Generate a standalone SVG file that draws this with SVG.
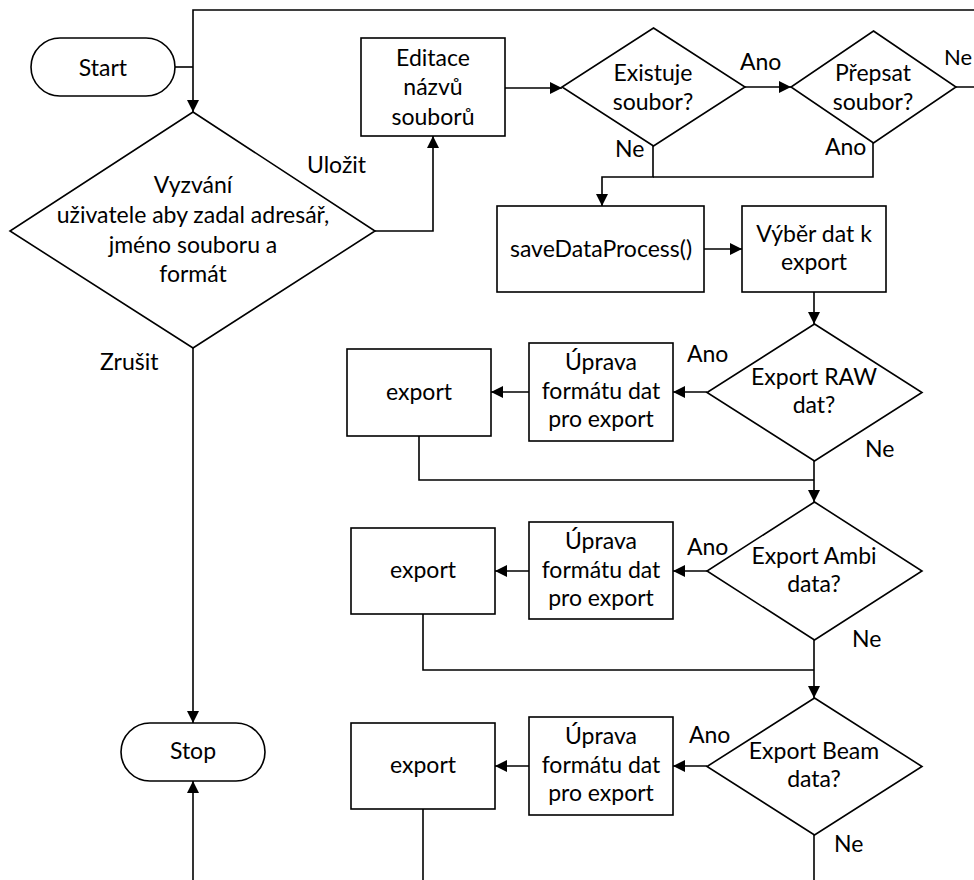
<svg xmlns="http://www.w3.org/2000/svg" width="974" height="880" viewBox="0 0 974 880">
<defs>
<marker id="arr" markerUnits="userSpaceOnUse" markerWidth="13" markerHeight="12" refX="12" refY="6" orient="auto">
<path d="M0,0 L12,6 L0,12 z" fill="#000"/>
</marker>
<style>
.s{fill:#fff;stroke:#000;stroke-width:1.6}
.c{fill:none;stroke:#000;stroke-width:1.6}
.a{marker-end:url(#arr)}
text{font-family:Lato,"Liberation Sans",sans-serif;font-size:23px;fill:#000;text-anchor:middle}
.l{text-anchor:start}
</style>
</defs>
<rect width="974" height="880" fill="#fff"/>
<g id="connectors">
<path class="c" d="M175,67 H193"/>
<path class="c a" d="M956,87 H990 V10 H193 V112"/>
<path class="c a" d="M375,231 H433 V136"/>
<path class="c a" d="M505,88 H562"/>
<path class="c a" d="M745,87 H791"/>
<path class="c a" d="M653,146 V177 H602 V206"/>
<path class="c" d="M873,143 V177 H653"/>
<path class="c a" d="M704,249 H742"/>
<path class="c a" d="M814,292 V324"/>
<path class="c a" d="M707,392 H673"/>
<path class="c a" d="M529,392 H491"/>
<path class="c" d="M419,436 V480 H814"/>
<path class="c a" d="M814,461 V502"/>
<path class="c a" d="M707,571 H673"/>
<path class="c a" d="M529,571 H495"/>
<path class="c" d="M423,614 V670 H814"/>
<path class="c a" d="M814,640 V698"/>
<path class="c a" d="M707,766 H673"/>
<path class="c a" d="M529,766 H495"/>
<path class="c" d="M423,809 V880"/>
<path class="c" d="M814,835 V880"/>
<path class="c a" d="M193,348 V723"/>
<path class="c a" d="M193,880 V781"/>
</g>
<g id="start">
<rect class="s" x="31" y="38" width="144" height="58" rx="29"/>
<text x="103" y="76">Start</text>
</g>
<g id="prompt">
<path class="s" d="M193,112 L375,231 L193,348 L10,231 z"/>
<text x="193" y="193">Vyzvání</text>
<text x="193" y="223">uživatele aby zadal adresář,</text>
<text x="193" y="253">jméno souboru a</text>
<text x="193" y="282">formát</text>
</g>
<g id="edit">
<rect class="s" x="361" y="38" width="144" height="98"/>
<text x="433" y="66">Editace</text>
<text x="433" y="95">názvů</text>
<text x="433" y="125">souborů</text>
</g>
<g id="exists">
<path class="s" d="M653.5,28 L745,87 L653.5,146 L562,87 z"/>
<text x="653" y="81">Existuje</text>
<text x="653" y="110">soubor?</text>
</g>
<g id="overwrite">
<path class="s" d="M873.5,31 L956,87 L873.5,143 L791,87 z"/>
<text x="873" y="81">Přepsat</text>
<text x="873" y="110">soubor?</text>
</g>
<g id="save">
<rect class="s" x="497" y="206" width="207" height="86"/>
<text x="601" y="257">saveDataProcess()</text>
</g>
<g id="select">
<rect class="s" x="742" y="206" width="144" height="86"/>
<text x="814" y="242">Výběr dat k</text>
<text x="814" y="270">export</text>
</g>
<g id="raw">
<path class="s" d="M814.5,324 L922,392.5 L814.5,461 L707,392.5 z"/>
<text x="814" y="385">Export RAW</text>
<text x="814" y="413">dat?</text>
</g>
<g id="fmt1">
<rect class="s" x="529" y="343" width="144" height="98"/>
<text x="601" y="370">Úprava</text>
<text x="601" y="399">formátu dat</text>
<text x="601" y="427">pro export</text>
</g>
<g id="export1">
<rect class="s" x="347" y="349" width="144" height="87"/>
<text x="419" y="400">export</text>
</g>
<g id="ambi">
<path class="s" d="M814.5,502 L922,571 L814.5,640 L707,571 z"/>
<text x="814" y="564">Export Ambi</text>
<text x="814" y="592">data?</text>
</g>
<g id="fmt2">
<rect class="s" x="529" y="522" width="144" height="97"/>
<text x="601" y="549">Úprava</text>
<text x="601" y="578">formátu dat</text>
<text x="601" y="606">pro export</text>
</g>
<g id="export2">
<rect class="s" x="351" y="528" width="144" height="86"/>
<text x="423" y="578">export</text>
</g>
<g id="beam">
<path class="s" d="M814.5,698 L922,766.5 L814.5,835 L707,766.5 z"/>
<text x="814" y="759">Export Beam</text>
<text x="814" y="787">data?</text>
</g>
<g id="fmt3">
<rect class="s" x="529" y="717" width="144" height="98"/>
<text x="601" y="744">Úprava</text>
<text x="601" y="773">formátu dat</text>
<text x="601" y="801">pro export</text>
</g>
<g id="export3">
<rect class="s" x="351" y="723" width="144" height="86"/>
<text x="423" y="773">export</text>
</g>
<g id="stop">
<rect class="s" x="121" y="723" width="144" height="58" rx="29"/>
<text x="193" y="759">Stop</text>
</g>
<g id="labels">
<text class="l" x="307" y="173">Uložit</text>
<text class="l" x="100" y="370">Zrušit</text>
<text class="l" x="740" y="70">Ano</text>
<text class="l" x="944" y="65" style="font-size:22px">Ne</text>
<text class="l" x="615" y="157">Ne</text>
<text class="l" x="825" y="155">Ano</text>
<text class="l" x="687" y="362">Ano</text>
<text class="l" x="865" y="457">Ne</text>
<text class="l" x="687" y="555">Ano</text>
<text class="l" x="852" y="647">Ne</text>
<text class="l" x="689" y="743">Ano</text>
<text class="l" x="834" y="852">Ne</text>
</g>
</svg>
